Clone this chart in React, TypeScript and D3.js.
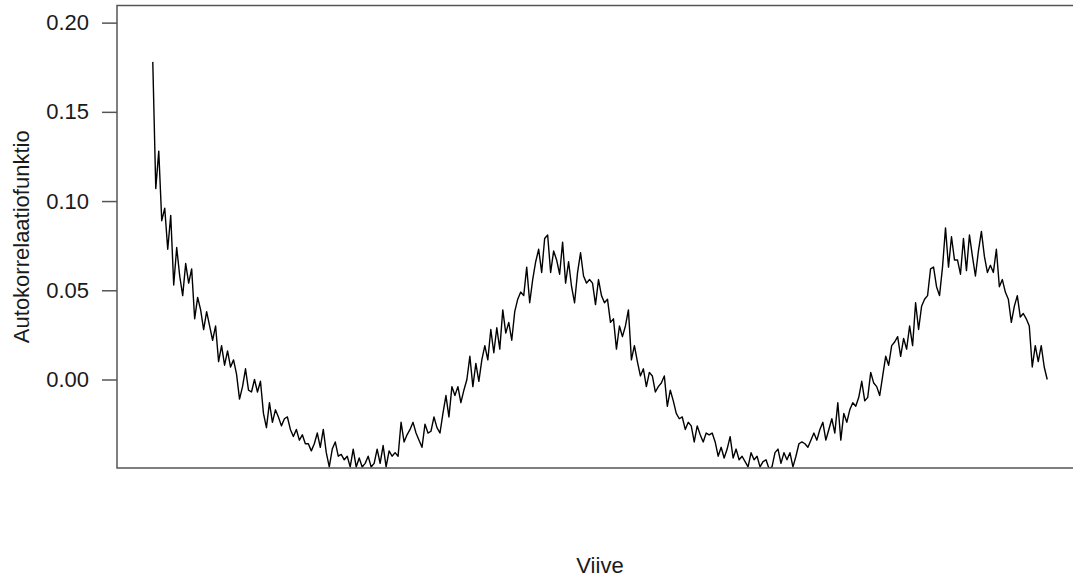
import * as d3 from "d3";
import { useEffect, useRef } from "react";

// autocorrelation values, one per lag
const acf: number[] = [
  0.178, 0.107, 0.128, 0.089, 0.096, 0.073, 0.092, 0.053, 0.074, 0.058,
  0.047, 0.065, 0.054, 0.062, 0.034, 0.046, 0.039, 0.028, 0.038, 0.030,
  0.022, 0.030, 0.010, 0.019, 0.008, 0.016, 0.007, 0.011, 0.003, -0.011,
  -0.004, 0.006, -0.006, -0.007, 0.000, -0.007, -0.001, -0.019, -0.027, -0.013,
  -0.024, -0.017, -0.021, -0.026, -0.022, -0.021, -0.028, -0.032, -0.028, -0.034,
  -0.031, -0.036, -0.036, -0.040, -0.036, -0.030, -0.038, -0.028, -0.041, -0.049,
  -0.039, -0.035, -0.043, -0.042, -0.045, -0.043, -0.049, -0.039, -0.049, -0.044,
  -0.049, -0.047, -0.043, -0.049, -0.047, -0.039, -0.047, -0.037, -0.049, -0.040,
  -0.043, -0.041, -0.043, -0.024, -0.035, -0.031, -0.028, -0.024, -0.030, -0.034,
  -0.038, -0.025, -0.030, -0.029, -0.021, -0.027, -0.030, -0.019, -0.009, -0.021,
  -0.004, -0.009, -0.004, -0.013, -0.006, 0.000, 0.013, -0.004, 0.009, -0.001,
  0.011, 0.019, 0.011, 0.028, 0.015, 0.029, 0.017, 0.039, 0.026, 0.032,
  0.022, 0.038, 0.045, 0.049, 0.047, 0.063, 0.043, 0.056, 0.066, 0.073,
  0.060, 0.079, 0.081, 0.060, 0.072, 0.067, 0.059, 0.077, 0.054, 0.066,
  0.052, 0.043, 0.060, 0.071, 0.058, 0.054, 0.056, 0.054, 0.042, 0.056,
  0.047, 0.043, 0.045, 0.032, 0.034, 0.017, 0.030, 0.024, 0.030, 0.039,
  0.011, 0.019, 0.010, 0.002, 0.006, -0.004, 0.004, 0.002, -0.007, -0.004,
  -0.002, 0.002, -0.015, -0.006, -0.012, -0.019, -0.022, -0.021, -0.028, -0.024,
  -0.026, -0.035, -0.026, -0.031, -0.035, -0.030, -0.031, -0.030, -0.035, -0.043,
  -0.038, -0.044, -0.039, -0.032, -0.044, -0.039, -0.045, -0.043, -0.046, -0.049,
  -0.041, -0.045, -0.043, -0.049, -0.046, -0.045, -0.050, -0.049, -0.041, -0.039,
  -0.047, -0.041, -0.045, -0.041, -0.049, -0.043, -0.036, -0.035, -0.036, -0.038,
  -0.034, -0.030, -0.034, -0.028, -0.024, -0.034, -0.028, -0.022, -0.030, -0.013,
  -0.034, -0.019, -0.024, -0.017, -0.013, -0.015, -0.010, -0.001, -0.012, -0.010,
  0.004, -0.002, -0.004, -0.009, 0.002, 0.013, 0.008, 0.019, 0.021, 0.024,
  0.013, 0.023, 0.017, 0.030, 0.019, 0.043, 0.028, 0.041, 0.045, 0.047,
  0.062, 0.063, 0.052, 0.047, 0.063, 0.085, 0.063, 0.080, 0.067, 0.067,
  0.059, 0.079, 0.061, 0.081, 0.069, 0.058, 0.072, 0.083, 0.069, 0.060,
  0.064, 0.060, 0.073, 0.052, 0.056, 0.049, 0.045, 0.032, 0.041, 0.047,
  0.035, 0.037, 0.034, 0.030, 0.007, 0.019, 0.010, 0.019, 0.007, 0.000,
];

const yTicks = [0, 0.05, 0.1, 0.15, 0.2];
const yTickLabels = ["0.00", "0.05", "0.10", "0.15", "0.20"];
const yLimits = [-0.04, 0.2];
const xTitle = "Viive";
const yTitle = "Autokorrelaatiofunktio";

const W = 1073;
const H = 579;
const FONT = "'Liberation Sans', Arial, Helvetica, sans-serif";

const App = () => {
  const ref = useRef<SVGSVGElement>(null);

  useEffect(() => {
    const svg = d3.select(ref.current);
    svg.selectAll("*").remove();

    // plot box (right edge runs past the picture)
    const box = { left: 117, right: 1083, top: 5.5, bottom: 468 };

    const lags = d3.range(1, acf.length + 1);
    // R style 4% padding on both axes
    const xPad = (lags.length - 1) * 0.04;
    const x = d3
      .scaleLinear()
      .domain([1 - xPad, lags.length + xPad])
      .range([box.left, box.right]);
    const yPad = (yLimits[1] - yLimits[0]) * 0.04;
    const y = d3
      .scaleLinear()
      .domain([yLimits[0] - yPad, yLimits[1] + yPad])
      .range([box.bottom, box.top]);

    svg
      .append("defs")
      .append("clipPath")
      .attr("id", "plotclip")
      .append("rect")
      .attr("x", box.left)
      .attr("y", box.top)
      .attr("width", box.right - box.left)
      .attr("height", box.bottom - box.top);

    // the acf line
    const line = d3
      .line<number>()
      .x((d, i) => x(lags[i]))
      .y((d) => y(d));
    svg
      .append("path")
      .datum(acf)
      .attr("clip-path", "url(#plotclip)")
      .attr("fill", "none")
      .attr("stroke", "#000")
      .attr("stroke-width", 1.4)
      .attr("stroke-linejoin", "round")
      .attr("d", line);

    // box
    svg
      .append("rect")
      .attr("x", box.left)
      .attr("y", box.top)
      .attr("width", box.right - box.left)
      .attr("height", box.bottom - box.top)
      .attr("fill", "none")
      .attr("stroke", "#555")
      .attr("stroke-width", 1.5);

    // y axis
    const yAxis = d3
      .axisLeft(y)
      .tickValues(yTicks)
      .tickFormat((d, i) => yTickLabels[i])
      .tickSize(15)
      .tickPadding(13);
    const gy = svg
      .append("g")
      .attr("transform", `translate(${box.left},0)`)
      .call(yAxis);
    gy.select(".domain").remove();
    gy.selectAll(".tick line").attr("stroke", "#555").attr("stroke-width", 1.5);
    gy.selectAll(".tick text")
      .attr("fill", "#1a1a1a")
      .style("font-family", FONT)
      .style("font-size", "22px");

    // titles
    svg
      .append("text")
      .attr("x", (box.left + box.right) / 2)
      .attr("y", 573)
      .attr("text-anchor", "middle")
      .attr("fill", "#1a1a1a")
      .style("font-family", FONT)
      .style("font-size", "22px")
      .text(xTitle);
    svg
      .append("text")
      .attr("transform", `translate(29,${(box.top + box.bottom) / 2}) rotate(-90)`)
      .attr("text-anchor", "middle")
      .attr("fill", "#1a1a1a")
      .style("font-family", FONT)
      .style("font-size", "22px")
      .text(yTitle);
  }, []);

  return (
    <svg
      ref={ref}
      width={W}
      height={H}
      style={{ position: "absolute", left: 0, top: 0, background: "#fff" }}
    />
  );
};

export default App;
